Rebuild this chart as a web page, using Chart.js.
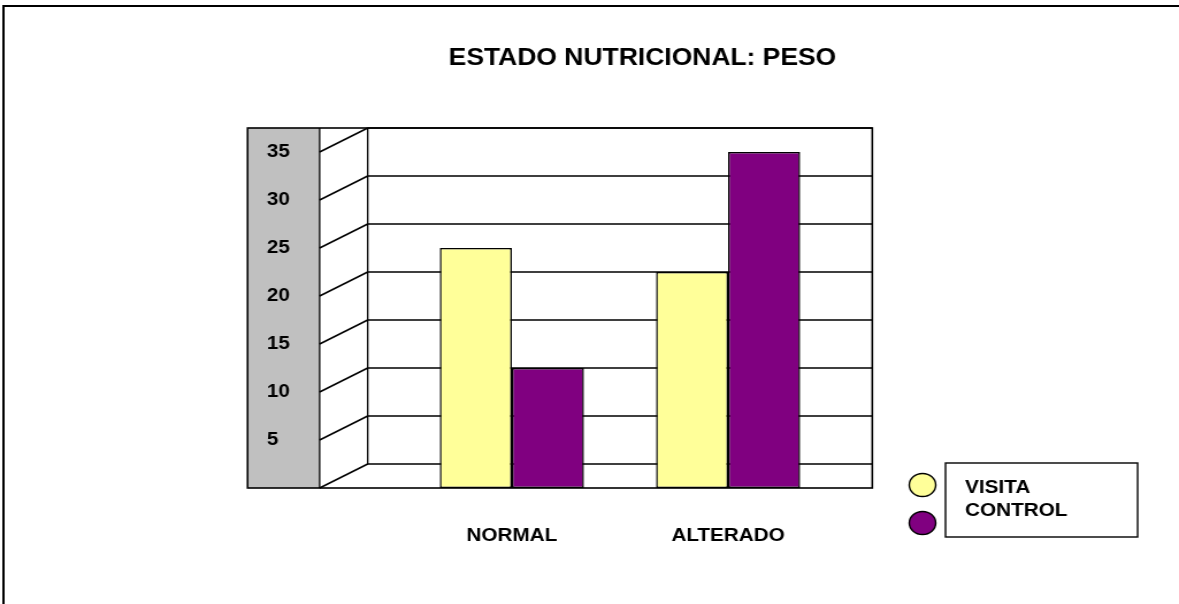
<!DOCTYPE html>
<html>
<head>
<meta charset="utf-8">
<script src="https://cdn.jsdelivr.net/npm/chart.js@4.4.1/dist/chart.umd.min.js"></script>
<style>
  html, body { margin: 0; padding: 0; background: #fff; }
  canvas { display: block; }
</style>
</head>
<body>
<!-- drawn a bit narrower and stretched sideways, like the source picture -->
<canvas id="myChart" width="1025" height="604" style="width:1179px;height:604px"></canvas>
<script>
const categories = ["NORMAL", "ALTERADO"];
const visita = [25, 22.5];
const control = [12.5, 35];
const seriesNames = ["VISITA", "CONTROL"];
const barColors = ["#FFFF99", "#800080"];
const yMax = 35;
const yStep = 5;

const FONT = "Arial, 'Liberation Sans', Helvetica, sans-serif";

// old excel style 3d box: grey side, back wall with grid, slanted lines
// drawn in beforeDraw so the axis labels end up on top of the grey side
const wallPlugin = {
  id: "wall",
  beforeDraw(chart) {
    const { ctx, scales: { x, y } } = chart;
    ctx.save();
    ctx.fillStyle = "#fff";
    ctx.fillRect(0, 0, chart.width, chart.height);
    ctx.strokeStyle = "#000";
    ctx.lineWidth = 2;
    // only top and left edges of the frame are in the picture
    ctx.strokeRect(3, 6, chart.width + 10, chart.height + 10);

    const cw = (x.right - x.left) / categories.length;
    const wallL = x.left - cw / 6;
    const wallR = x.right + cw / 6;
    const dx = cw * 2 / 9;
    const dy = y.getPixelForValue(0) - y.getPixelForValue(2.5);
    const frontL = wallL - dx;
    const panelL = frontL - cw / 3;
    const top = y.getPixelForValue(y.max) - dy;
    const bottom = y.getPixelForValue(0);

    ctx.fillStyle = "#C0C0C0";
    ctx.fillRect(panelL, top, frontL - panelL, bottom - top);

    ctx.lineWidth = 1.5;
    y.ticks.forEach((t) => {
      const yf = y.getPixelForValue(t.value);
      ctx.beginPath();
      ctx.moveTo(wallL, yf - dy);
      ctx.lineTo(wallR, yf - dy);
      ctx.moveTo(frontL, yf);
      ctx.lineTo(wallL, yf - dy);
      ctx.stroke();
    });

    ctx.lineWidth = 1.3;
    ctx.beginPath();
    ctx.moveTo(frontL, top);
    ctx.lineTo(frontL, bottom);
    ctx.moveTo(wallL, top);
    ctx.lineTo(wallL, bottom - dy);
    ctx.stroke();

    ctx.lineWidth = 1.6;
    ctx.strokeRect(panelL, top, wallR - panelL, bottom - top);
    ctx.restore();
  },
};

// legend: dots outside, names in a box
const boxLegend = {
  id: "boxLegend",
  afterDraw(chart) {
    const { ctx, chartArea } = chart;
    const bx = chartArea.right + 95;
    const by = 463;
    ctx.save();
    ctx.strokeStyle = "#000";
    ctx.lineWidth = 1.4;
    ctx.strokeRect(bx, by, 167, 74);
    ctx.font = "bold 18px " + FONT;
    ctx.textBaseline = "middle";
    ctx.fillStyle = "#000";
    chart.data.datasets.forEach((ds, i) => {
      ctx.fillText(ds.label, bx + 17, by + 25 + i * 23);
    });
    chart.data.datasets.forEach((ds, i) => {
      ctx.beginPath();
      ctx.arc(bx - 20, by + 22 + i * 38, 11.5, 0, Math.PI * 2);
      ctx.fillStyle = ds.backgroundColor;
      ctx.fill();
      ctx.stroke();
    });
    ctx.restore();
  },
};

new Chart("myChart", {
  type: "bar",
  data: {
    labels: categories,
    datasets: [
      {
        label: seriesNames[0],
        data: visita,
        backgroundColor: barColors[0],
        borderColor: "#000",
        borderWidth: 1.5,
        borderSkipped: false,
      },
      {
        label: seriesNames[1],
        data: control,
        backgroundColor: barColors[1],
        borderColor: "#000",
        borderWidth: 1.5,
        borderSkipped: false,
      },
    ],
  },
  options: {
    responsive: false,
    devicePixelRatio: 1,
    animation: false,
    events: [],
    categoryPercentage: 2 / 3,
    barPercentage: 1,
    layout: { padding: { left: 232, right: 298, top: 0, bottom: 0 } },
    scales: {
      x: {
        offset: true,
        grid: { display: false, drawTicks: false },
        border: { display: false },
        ticks: {
          color: "#000",
          padding: 37,
          maxRotation: 0,
          autoSkip: false,
          font: { family: FONT, size: 18, weight: "bold" },
        },
        afterFit: (s) => { s.height = 116; },
      },
      y: {
        min: 0,
        max: yMax,
        grid: { display: false, drawTicks: false },
        border: { display: false },
        ticks: {
          stepSize: yStep,
          color: "#000",
          padding: 0,
          crossAlign: "far",
          font: { family: FONT, size: 18, weight: "bold" },
          callback: (v) => (v === 0 ? "" : v),
        },
        afterFit: (s) => { s.width = 119; },
      },
    },
    plugins: {
      legend: { display: false },
      tooltip: { enabled: false },
      title: {
        display: true,
        text: "ESTADO NUTRICIONAL: PESO",
        align: "end",
        fullSize: false,
        color: "#000",
        font: { family: FONT, size: 23, weight: "bold", lineHeight: 1.2 },
        padding: { top: 45, bottom: 79.4 },
      },
    },
  },
  plugins: [wallPlugin, boxLegend],
});
</script>
</body>
</html>
